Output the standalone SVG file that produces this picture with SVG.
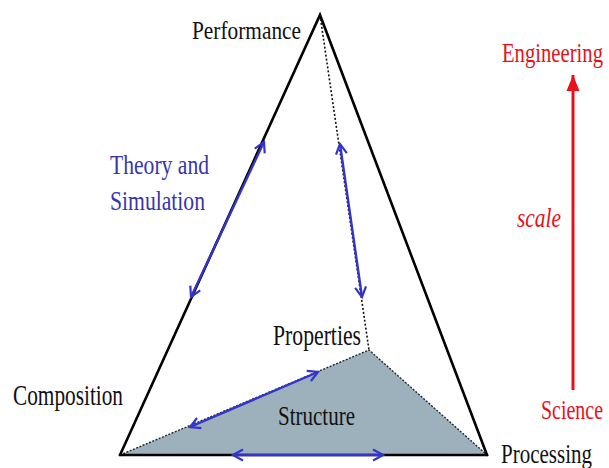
<svg xmlns="http://www.w3.org/2000/svg" width="609" height="468" viewBox="0 0 609 468" font-family="'Liberation Serif', 'Times New Roman', serif">
  <style>
    text { font-family: "Liberation Serif", "Times New Roman", serif; font-size: 21px; fill: #111; }
    .blue { fill: #3535b0; }
    .red { fill: #e8101a; }
    .edge { stroke: #000; stroke-width: 2.6; fill: none; stroke-linecap: round; }
    .hidden { stroke: #111; stroke-width: 1.6; stroke-dasharray: 2 2; fill: none; }
    .link { stroke: #3434c8; stroke-width: 2.4; fill: none; marker-start: url(#chev); marker-end: url(#chev); }
  </style>
  <defs>
    <marker id="chev" viewBox="-12 -7 14 14" refX="0" refY="0" markerWidth="14" markerHeight="14" markerUnits="userSpaceOnUse" orient="auto-start-reverse">
      <path d="M-10,-5.5 L0,0 L-10,5.5" fill="none" stroke="#3434c8" stroke-width="2.2" stroke-linejoin="miter"/>
    </marker>
    <marker id="tri" viewBox="0 -7 16 14" refX="16" refY="0" markerWidth="16" markerHeight="14" markerUnits="userSpaceOnUse" orient="auto">
      <path d="M0,-6.5 L16,0 L0,6.5 Z" fill="#e8101a"/>
    </marker>
  </defs>

  <rect width="609" height="468" fill="#fff"/>

  <!-- structure face of the tetrahedron -->
  <g id="structure">
    <polygon points="120,455 369,350 487,455" fill="#9db1bd" stroke="#1d2a30" stroke-width="1.4" stroke-dasharray="2 1.5"/>
    <text transform="translate(278,425) scale(1,1.35)" textLength="77" lengthAdjust="spacingAndGlyphs">Structure</text>
  </g>

  <!-- outer edges and hidden edge -->
  <g id="edges">
    <polyline class="edge" points="120,455 320,15 487,455"/>
    <line class="edge" x1="120" y1="455" x2="487" y2="455"/>
    <line class="hidden" x1="320" y1="15" x2="369" y2="350"/>
  </g>

  <g id="performance">
    <text transform="translate(192,39) scale(1,1.22)" textLength="109" lengthAdjust="spacingAndGlyphs">Performance</text>
  </g>
  <g id="properties">
    <text transform="translate(273,345) scale(1,1.38)" textLength="88" lengthAdjust="spacingAndGlyphs">Properties</text>
  </g>
  <g id="composition">
    <text transform="translate(13,405) scale(1,1.4)" textLength="110" lengthAdjust="spacingAndGlyphs">Composition</text>
  </g>
  <g id="processing">
    <text transform="translate(501,463) scale(1,1.3)" textLength="91" lengthAdjust="spacingAndGlyphs">Processing</text>
  </g>
  <g id="theory">
    <text class="blue" transform="translate(110,174) scale(1,1.33)" textLength="99" lengthAdjust="spacingAndGlyphs">Theory and</text>
    <text class="blue" transform="translate(110,210) scale(1,1.33)" textLength="95" lengthAdjust="spacingAndGlyphs">Simulation</text>
  </g>

  <!-- two-way relations along the edges -->
  <g id="connectors">
    <line class="link" x1="191" y1="297" x2="264" y2="142"/>
    <line class="link" x1="340" y1="144" x2="362" y2="297"/>
    <line class="link" x1="190" y1="427" x2="318" y2="372"/>
    <line class="link" x1="233" y1="455" x2="383" y2="455"/>
    <line x1="573" y1="390" x2="573" y2="75" stroke="#e8101a" stroke-width="3" marker-end="url(#tri)"/>
  </g>

  <g id="scale">
    <text class="red" transform="translate(502,62) scale(1,1.25)" textLength="101" lengthAdjust="spacingAndGlyphs">Engineering</text>
    <text class="red" transform="translate(517,227) scale(1,1.3)" font-style="italic" textLength="44" lengthAdjust="spacingAndGlyphs">scale</text>
    <text class="red" transform="translate(541,419) scale(1,1.27)" textLength="62" lengthAdjust="spacingAndGlyphs">Science</text>
  </g>
</svg>
